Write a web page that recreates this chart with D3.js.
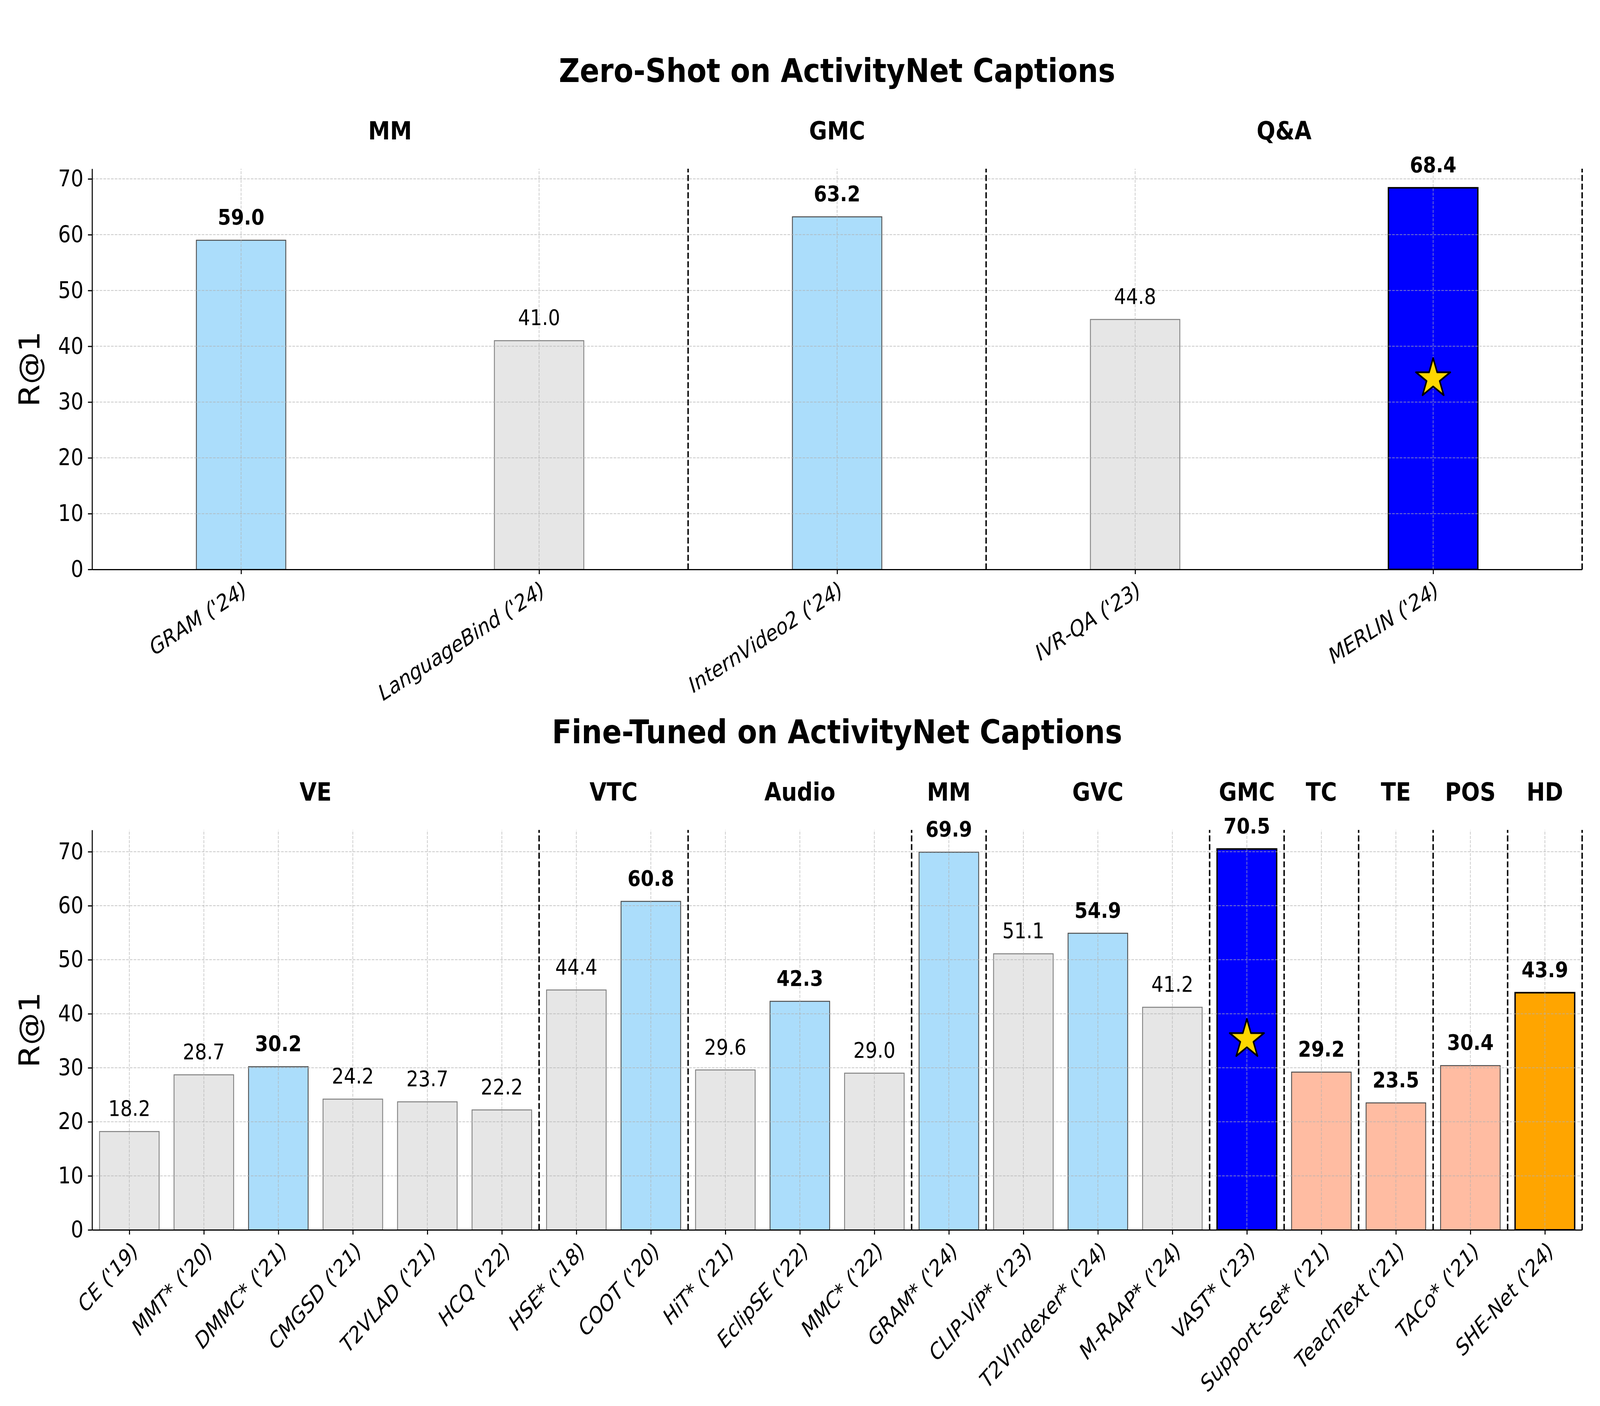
<!DOCTYPE html>
<html>
<head>
<meta charset="utf-8">
<script src="https://cdn.jsdelivr.net/npm/d3@7"></script>
<style>
html, body { margin: 0; padding: 0; background: #fff; overflow: hidden; }
svg { display: block; width: 100vw; height: 100vh; }
</style>
</head>
<body>
<svg></svg>
<script>
//data - zero-shot panel
const zsNames = ["GRAM ('24)", "LanguageBind ('24)", "InternVideo2 ('24)", "IVR-QA ('23)", "MERLIN ('24)"];
const zsValues = [59.0, 41.0, 63.2, 44.8, 68.4];
const zsKinds = ["light", "gray", "light", "gray", "ours"];
const zsGroups = ["MM", "GMC", "Q&A"];
const zsSpans = [[0, 1], [2, 2], [3, 4]];

//data - fine-tuned panel
const ftNames = ["CE ('19)", "MMT* ('20)", "DMMC* ('21)", "CMGSD ('21)", "T2VLAD ('21)", "HCQ ('22)",
    "HSE* ('18)", "COOT ('20)", "HiT* ('21)", "EclipSE ('22)", "MMC* ('22)", "GRAM* ('24)",
    "CLIP-ViP* ('23)", "T2VIndexer* ('24)", "M-RAAP* ('24)", "VAST* ('23)", "Support-Set* ('21)",
    "TeachText ('21)", "TACo* ('21)", "SHE-Net ('24)"];
const ftValues = [18.2, 28.7, 30.2, 24.2, 23.7, 22.2, 44.4, 60.8, 29.6, 42.3, 29.0, 69.9,
    51.1, 54.9, 41.2, 70.5, 29.2, 23.5, 30.4, 43.9];
const ftKinds = ["gray", "gray", "light", "gray", "gray", "gray", "gray", "light", "gray", "light",
    "gray", "light", "gray", "light", "gray", "ours", "salmon", "salmon", "salmon", "hd"];
const ftGroups = ["VE", "VTC", "Audio", "MM", "GVC", "GMC", "TC", "TE", "POS", "HD"];
const ftSpans = [[0, 5], [6, 7], [8, 10], [11, 11], [12, 14], [15, 15], [16, 16], [17, 17], [18, 18], [19, 19]];

const yTicks = [0, 10, 20, 30, 40, 50, 60, 70];

//styles
const fills = {gray: "#e6e6e6", light: "#abddfb", ours: "#0000ff", salmon: "#ffbca2", hd: "#ffa500"};
const edges = {gray: "#808080", light: "#4d4d4d", ours: "#000000", salmon: "#4d4d4d", hd: "#000000"};
const edgeW = {gray: 2.5, light: 2.5, ours: 4, salmon: 2.5, hd: 4};
const font = "DejaVu Sans";

//constants
const W = 4657, H = 3600;
const left = 268, right = 4605;

const svg = d3.select("svg")
    .attr("viewBox", `0 0 ${W} ${H}`)
    .attr("preserveAspectRatio", "none")
    .style("background-color", "#fff")
    .style("font-family", font);

function panel(o) {
    let x = d3.scaleLinear()
        .domain([-0.5, o.names.length - 0.5])
        .range([left, right]);

    let y = d3.scaleLinear()
        .domain([0, d3.max(o.values) * 1.05])
        .range([o.bottom, o.top]);

    let g = svg.append("g");

    //title
    g.append("text")
        .attr("x", (left + right) / 2)
        .attr("y", o.titleY)
        .attr("text-anchor", "middle")
        .style("font-size", "84px")
        .style("font-weight", "bold")
        .text(o.title);

    //group labels
    g.selectAll(null)
        .data(o.groups)
        .enter()
        .append("text")
        .attr("x", (d, i) => x((o.spans[i][0] + o.spans[i][1]) / 2))
        .attr("y", o.groupY)
        .attr("text-anchor", "middle")
        .style("font-size", "64px")
        .style("font-weight", "bold")
        .text(d => d);

    //bars
    g.selectAll(null)
        .data(o.values)
        .enter()
        .append("rect")
        .attr("x", (d, i) => x(i - o.barWidth / 2))
        .attr("width", x(o.barWidth) - x(0))
        .attr("y", d => y(d))
        .attr("height", d => y(0) - y(d))
        .attr("fill", (d, i) => fills[o.kinds[i]])
        .attr("stroke", (d, i) => edges[o.kinds[i]])
        .attr("stroke-width", (d, i) => edgeW[o.kinds[i]]);

    //grid
    g.selectAll(null)
        .data(yTicks)
        .enter()
        .append("line")
        .attr("x1", left).attr("x2", right)
        .attr("y1", d => y(d)).attr("y2", d => y(d))
        .attr("stroke", "#b0b0b0")
        .attr("stroke-opacity", 0.7)
        .attr("stroke-width", 2)
        .attr("stroke-dasharray", "7.7 3.3");

    g.selectAll(null)
        .data(o.names)
        .enter()
        .append("line")
        .attr("x1", (d, i) => x(i)).attr("x2", (d, i) => x(i))
        .attr("y1", o.bottom).attr("y2", o.top)
        .attr("stroke", "#b0b0b0")
        .attr("stroke-opacity", 0.7)
        .attr("stroke-width", 2)
        .attr("stroke-dasharray", "7.7 3.3");

    //group separators
    g.selectAll(null)
        .data(o.spans)
        .enter()
        .append("line")
        .attr("x1", d => x(d[1] + 0.5)).attr("x2", d => x(d[1] + 0.5))
        .attr("y1", o.bottom).attr("y2", o.top)
        .attr("stroke", "#000")
        .attr("stroke-width", 4.2)
        .attr("stroke-dasharray", "15.4 6.7");

    //star on our bar
    g.selectAll(null)
        .data(o.values.map((v, i) => [v, i]).filter(d => o.kinds[d[1]] === "ours"))
        .enter()
        .append("path")
        .attr("d", d3.symbol(d3.symbolStar, 3100))
        .attr("transform", d => `translate(${x(d[1])},${y(d[0] / 2)})`)
        .attr("fill", "#ffd700")
        .attr("stroke", "#000")
        .attr("stroke-width", 4.5)
        .attr("stroke-linejoin", "round");

    //value labels
    g.selectAll(null)
        .data(o.values)
        .enter()
        .append("text")
        .attr("x", (d, i) => x(i))
        .attr("y", d => y(d) - 40)
        .attr("text-anchor", "middle")
        .style("font-size", "55px")
        .style("font-weight", (d, i) => o.kinds[i] === "gray" ? "normal" : "bold")
        .text(d => d.toFixed(1));

    //axes
    let yAxis = d3.axisLeft(y)
        .tickValues(yTicks)
        .tickSize(12)
        .tickPadding(13)
        .tickSizeOuter(0);

    let ya = g.append("g")
        .attr("transform", `translate(${left},0)`)
        .call(yAxis)
        .attr("font-family", font)
        .attr("font-size", 58);
    ya.selectAll("path, line").attr("stroke", "#000").attr("stroke-width", 3);

    let xAxis = d3.axisBottom(x)
        .tickValues(d3.range(o.names.length))
        .tickFormat(i => o.names[i])
        .tickSize(12)
        .tickSizeOuter(0);

    let xa = g.append("g")
        .attr("transform", `translate(0,${o.bottom})`)
        .call(xAxis)
        .attr("font-family", font)
        .attr("font-size", 56);
    xa.selectAll("path, line").attr("stroke", "#000").attr("stroke-width", 3);
    xa.selectAll("text")
        .attr("x", 0)
        .attr("y", 0)
        .attr("dy", "0.76em")
        .attr("transform", `translate(0,26) rotate(${-o.angle})`)
        .style("text-anchor", "end")
        .style("font-style", "italic");

    //y label
    g.append("text")
        .attr("transform", `translate(115,${(o.top + o.bottom) / 2}) rotate(-90)`)
        .attr("text-anchor", "middle")
        .style("font-size", "83px")
        .text("R@1");
}

panel({
    names: zsNames, values: zsValues, kinds: zsKinds, groups: zsGroups, spans: zsSpans,
    title: "Zero-Shot on ActivityNet Captions",
    top: 432, bottom: 1458, titleY: 210, groupY: 357, barWidth: 0.3, angle: 30
});

panel({
    names: ftNames, values: ftValues, kinds: ftKinds, groups: ftGroups, spans: ftSpans,
    title: "Fine-Tuned on ActivityNet Captions",
    top: 2125, bottom: 3149, titleY: 1903, groupY: 2050, barWidth: 0.8, angle: 45
});
</script>
</body>
</html>
